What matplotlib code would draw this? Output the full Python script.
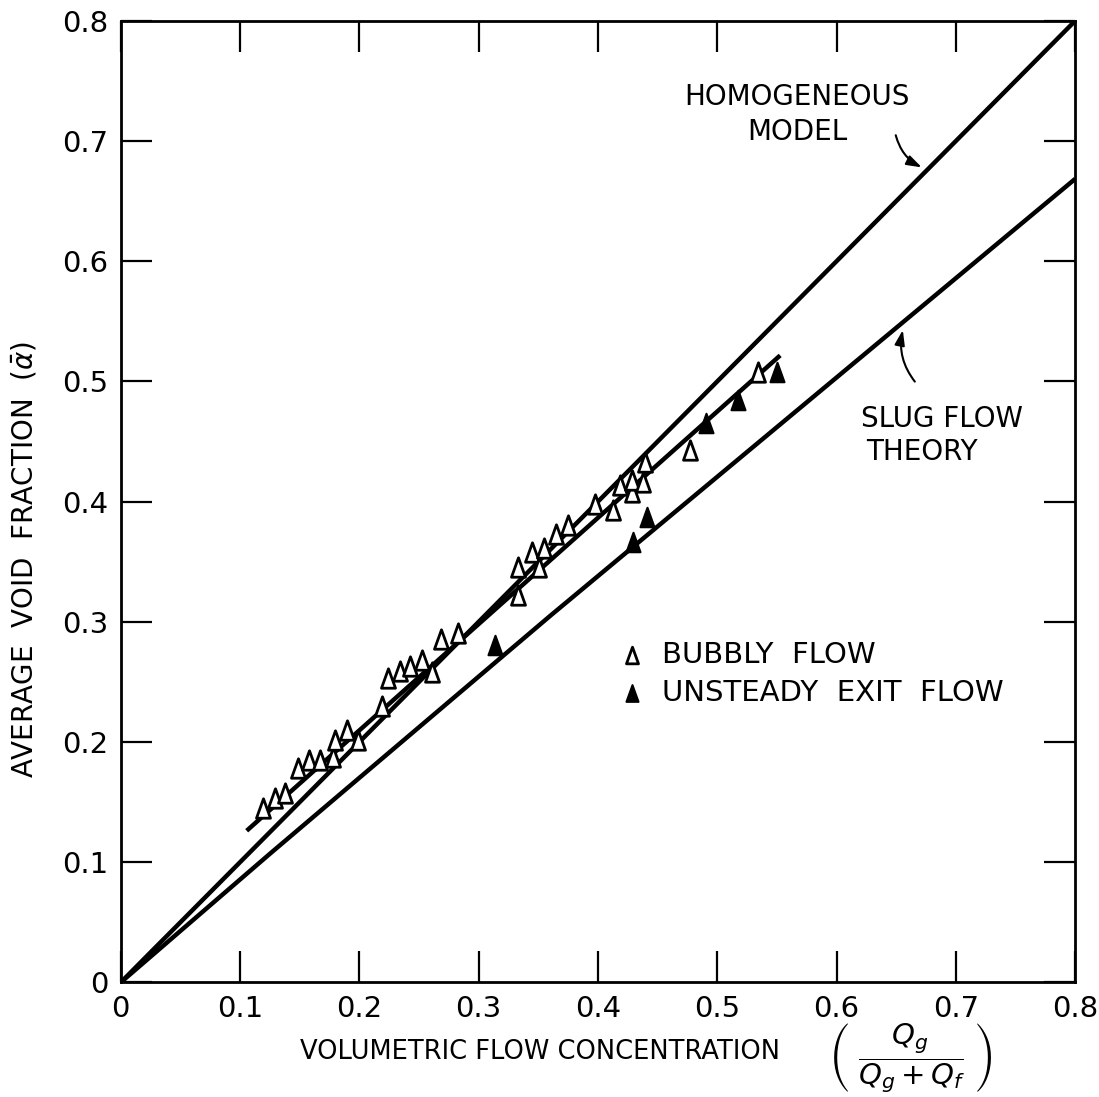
import numpy as np
import matplotlib
matplotlib.use('Agg')
import matplotlib.pyplot as plt
from matplotlib.path import Path

# bubbly flow (open triangles)
bubbly_x = [0.1195, 0.1293, 0.1377, 0.1489, 0.1581, 0.1670, 0.1782, 0.1796, 0.1894,
            0.1986, 0.2188, 0.2243, 0.2341, 0.2425, 0.2523, 0.2607, 0.2682, 0.2830,
            0.3333, 0.3333, 0.3450, 0.3509, 0.3548, 0.3649, 0.3747, 0.3976, 0.4124,
            0.4185, 0.4283, 0.4283, 0.4380, 0.4395, 0.4772, 0.5345]
bubbly_y = [0.1448, 0.1531, 0.1578, 0.1780, 0.1850, 0.1850, 0.1877, 0.2016, 0.2099,
            0.2016, 0.2298, 0.2529, 0.2592, 0.2631, 0.2681, 0.2584, 0.2853, 0.2903,
            0.3456, 0.3221, 0.3580, 0.3456, 0.3610, 0.3734, 0.3803, 0.3983, 0.3928,
            0.4135, 0.4080, 0.4177, 0.4163, 0.4329, 0.4426, 0.5077]

# unsteady exit flow (filled triangles)
unsteady_x = [0.3137, 0.4292, 0.4409, 0.4906, 0.5177, 0.5499]
unsteady_y = [0.2805, 0.3664, 0.3872, 0.4653, 0.4842, 0.5077]

# lines
homog_x = [0.0, 0.8]
homog_y = [0.0, 0.8]
slug_x = [0.0, 0.125, 0.36, 0.8]
slug_y = [0.0, 0.107, 0.305, 0.6685]
fit_x = [0.1056, 0.5527]
fit_y = [0.1262, 0.5216]

ticks = [0, 0.1, 0.2, 0.3, 0.4, 0.5, 0.6, 0.7, 0.8]
tick_labels = ['0', '0.1', '0.2', '0.3', '0.4', '0.5', '0.6', '0.7', '0.8']

plt.rcParams['font.family'] = ['DejaVu Sans']
plt.rcParams['mathtext.fontset'] = 'dejavusans'

fig = plt.figure(figsize=(10.99, 10.97), dpi=100)
ax = fig.add_axes([0.1098, 0.1044, 0.8686, 0.8767])

# taller-than-wide closed triangle
tri = Path([(-0.72, -1), (0.72, -1), (0, 1), (-0.72, -1)],
           [Path.MOVETO, Path.LINETO, Path.LINETO, Path.CLOSEPOLY])

ax.plot(homog_x, homog_y, color='black', lw=3.2, solid_capstyle='butt')
ax.plot(slug_x, slug_y, color='black', lw=3.2, solid_capstyle='butt')
ax.plot(fit_x, fit_y, color='black', lw=3.2, solid_capstyle='butt')

ax.plot(bubbly_x, bubbly_y, ls='none', marker=tri, ms=14, mfc='white',
        mec='black', mew=2.0, zorder=3)
ax.plot(unsteady_x, unsteady_y, ls='none', marker=tri, ms=14, mfc='black',
        mec='black', mew=1.5, zorder=3)

ax.set_xlim(0, 0.8)
ax.set_ylim(0, 0.8)
ax.set_xticks(ticks)
ax.set_xticklabels(tick_labels)
ax.set_yticks(ticks)
ax.set_yticklabels(tick_labels)
ax.tick_params(direction='in', length=22, width=1.6, top=True, right=True,
               labelsize=21, pad=9)
for s in ax.spines.values():
    s.set_linewidth(2.0)

# axis titles
fig.text(540 / 1099, 1 - 1052 / 1097, 'VOLUMETRIC FLOW CONCENTRATION',
         ha='center', va='center', fontsize=18.5)
fig.text(910 / 1099, 1 - 1058 / 1097, r'$\left(\ \dfrac{Q_g}{Q_g+Q_f}\ \right)$',
         ha='center', va='center', fontsize=21)
fig.text(24 / 1099, 1 - 560 / 1097, r'AVERAGE  VOID  FRACTION  $(\bar{\alpha})$',
         ha='center', va='center', rotation=90, fontsize=20)

# annotations
ax.text(0.567, 0.722, 'HOMOGENEOUS\nMODEL', ha='center', va='center',
        fontsize=20, linespacing=1.35)
ax.annotate('', xy=(0.6735, 0.677), xytext=(0.649, 0.707),
            arrowprops=dict(arrowstyle='-|>,head_length=0.9,head_width=0.3',
                            connectionstyle='arc3,rad=0.25', color='black', lw=1.5))
ax.text(0.688, 0.469, 'SLUG FLOW', ha='center', va='center', fontsize=20)
ax.text(0.6717, 0.441, 'THEORY', ha='center', va='center', fontsize=20)
ax.annotate('', xy=(0.656, 0.545), xytext=(0.667, 0.498),
            arrowprops=dict(arrowstyle='-|>,head_length=0.9,head_width=0.3',
                            connectionstyle='arc3,rad=-0.25', color='black', lw=1.5))

# legend
ax.plot([0.536], [0.3405], transform=ax.transAxes, ls='none', marker=tri, ms=12,
        mfc='white', mec='black', mew=2.0, clip_on=False)
ax.text(0.567, 0.3405, 'BUBBLY  FLOW', transform=ax.transAxes, ha='left',
        va='center', fontsize=21)
ax.plot([0.536], [0.301], transform=ax.transAxes, ls='none', marker=tri, ms=12,
        mfc='black', mec='black', mew=1.5, clip_on=False)
ax.text(0.567, 0.301, 'UNSTEADY  EXIT  FLOW', transform=ax.transAxes, ha='left',
        va='center', fontsize=21)

fig.savefig('out.png', dpi=100)
